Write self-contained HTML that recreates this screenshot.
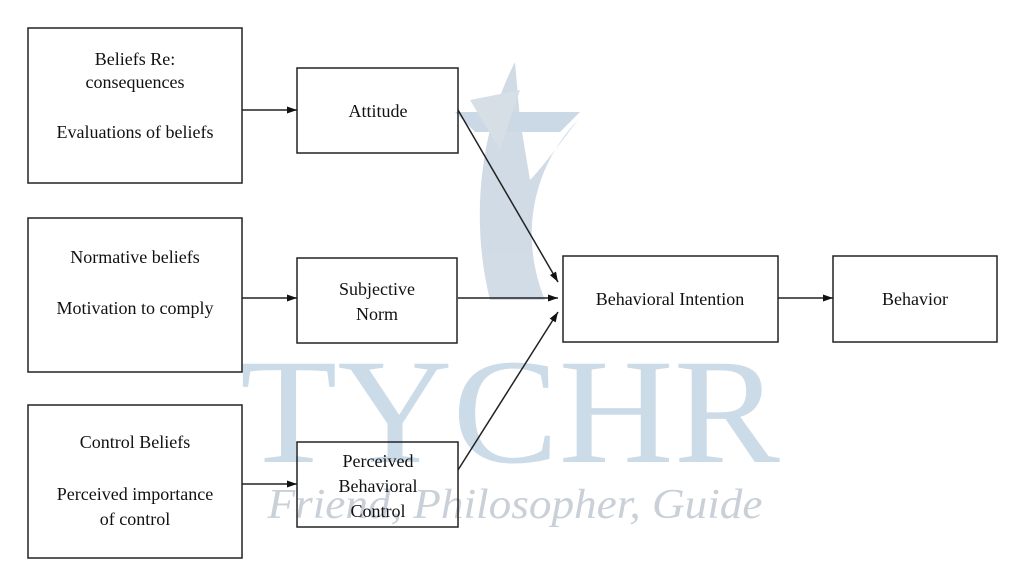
<!DOCTYPE html>
<html><head><style>body{margin:0;background:#fff}svg{display:block}</style></head>
<body>
<svg width="1024" height="585" viewBox="0 0 1024 585" xmlns="http://www.w3.org/2000/svg" font-family="'Liberation Serif', serif">
<defs><marker id="a" viewBox="0 0 10 10" refX="10" refY="5" markerWidth="20" markerHeight="10" markerUnits="userSpaceOnUse" orient="auto"><path d="M0,1.5 L10,5 L0,8.5 Z" fill="#111"/></marker></defs>
<!-- watermark -->
<g opacity="0.8">
<path d="M515,62 C480,130 470,220 490,300 L545,300 C520,240 530,170 578,120 C555,150 540,170 530,180 L520,120 Z" fill="#c5d3e0"/>
<path d="M455,112 L580,112 L560,132 L475,132 Z" fill="#bfd0e0"/>
<path d="M470,100 L520,90 L500,150 Z" fill="#ccd6e0"/>
</g>
<text x="510" y="462" font-size="150" fill="#ccdbe8" text-anchor="middle" textLength="540" lengthAdjust="spacingAndGlyphs">TYCHR</text>
<text x="515" y="518" font-size="42" font-style="italic" fill="#c9d0d8" text-anchor="middle" textLength="495" lengthAdjust="spacingAndGlyphs">Friend, Philosopher, Guide</text>
<g fill="none" stroke="#222" stroke-width="1.5">
<rect x="28" y="28" width="214" height="155"/>
<rect x="28" y="218" width="214" height="154"/>
<rect x="28" y="405" width="214" height="153"/>
<rect x="297" y="68" width="161" height="85"/>
<rect x="297" y="258" width="160" height="85"/>
<rect x="297" y="442" width="161" height="85"/>
<rect x="563" y="256" width="215" height="86"/>
<rect x="833" y="256" width="164" height="86"/>
<line x1="242" y1="110" x2="297" y2="110" marker-end="url(#a)"/>
<line x1="242" y1="298" x2="297" y2="298" marker-end="url(#a)"/>
<line x1="242" y1="484" x2="297" y2="484" marker-end="url(#a)"/>
<line x1="458" y1="110" x2="558" y2="282" marker-end="url(#a)"/>
<line x1="458" y1="298" x2="558" y2="298" marker-end="url(#a)"/>
<line x1="458" y1="470" x2="558" y2="312" marker-end="url(#a)"/>
<line x1="778" y1="298" x2="833" y2="298" marker-end="url(#a)"/>
</g>
<g font-size="18" fill="#111" text-anchor="middle">
<text x="135" y="65">Beliefs Re:</text>
<text x="135" y="88">consequences</text>
<text x="135" y="138">Evaluations of beliefs</text>
<text x="135" y="263">Normative beliefs</text>
<text x="135" y="314">Motivation to comply</text>
<text x="135" y="448">Control Beliefs</text>
<text x="135" y="500">Perceived importance</text>
<text x="135" y="525">of control</text>
<text x="378" y="117">Attitude</text>
<text x="377" y="295">Subjective</text>
<text x="377" y="320">Norm</text>
<text x="378" y="467">Perceived</text>
<text x="378" y="492">Behavioral</text>
<text x="378" y="517">Control</text>
<text x="670" y="305">Behavioral Intention</text>
<text x="915" y="305">Behavior</text>
</g>
</svg>
</body></html>
